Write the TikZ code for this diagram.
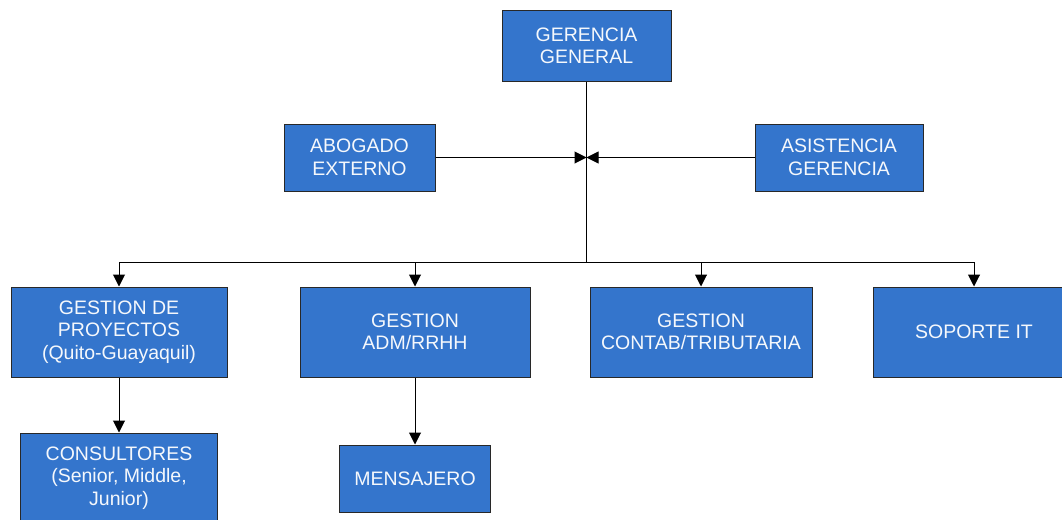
\documentclass[tikz,border=0pt]{standalone}
\usepackage{fontspec}
\setmainfont{Liberation Sans}
\usetikzlibrary{arrows.meta}
\usetikzlibrary{positioning}
\definecolor{mblue}{RGB}{52, 117, 204}
\definecolor{mline}{RGB}{40, 40, 40}
\tikzset{box/.style = {draw = mline, fill = mblue, text = white!95!mblue, align = center, rectangle,
    inner sep = 0, line width = 1pt, font = \fontsize{19.5}{22.5}\selectfont}}
\tikzset{arr/.style = {-{Triangle[length = 12pt, width = 12pt]}, line width = 1pt}}

\begin{document}
\begin{tikzpicture}[x = 1pt, y = -1pt]
      \useasboundingbox (0, 0) rectangle (1062, 519);
      \node [box, minimum width = 169, minimum height = 70] (gg) at (586.5, 46) {GERENCIA\\GENERAL};
      \node [box, minimum width = 151, minimum height = 67] (abog) at (359.5, 157.5) {ABOGADO\\EXTERNO};
      \node [box, minimum width = 168, minimum height = 67] (asis) at (839, 157.5) {ASISTENCIA\\GERENCIA};

      \node [box, minimum width = 216, minimum height = 90] (proy) at (119, 332) {GESTION DE\\PROYECTOS\\(Quito-Guayaquil)};
      \node [box, minimum width = 230, minimum height = 90] (adm) at (415, 332) {GESTION\\ADM/RRHH};
      \node [box, minimum width = 222, minimum height = 90] (cont) at (701, 332) {GESTION\\CONTAB/TRIBUTARIA};
      \node [box, minimum width = 202, minimum height = 90] (sop) at (974, 332) {SOPORTE IT};

      \node [box, minimum width = 197, minimum height = 90] (cons) at (119, 478) {CONSULTORES\\(Senior, Middle,\\Junior)};
      \node [box, minimum width = 151, minimum height = 67] (mens) at (415, 478.5) {MENSAJERO};

      \coordinate (hub) at (586.5, 157.5);
      \coordinate (bus) at (586.5, 262);

      \draw [line width = 1pt] (gg.south) -- (bus);
      \draw [arr] (abog.east) -- (hub);
      \draw [arr] (asis.west) -- (hub);

      \foreach \n in {proy, adm, cont, sop} {
        \draw [arr] (bus) -| (\n.north);
      }
      \draw [arr] (proy.south) -- (cons.north);
      \draw [arr] (adm.south) -- (mens.north);

    \end{tikzpicture}
\end{document}
